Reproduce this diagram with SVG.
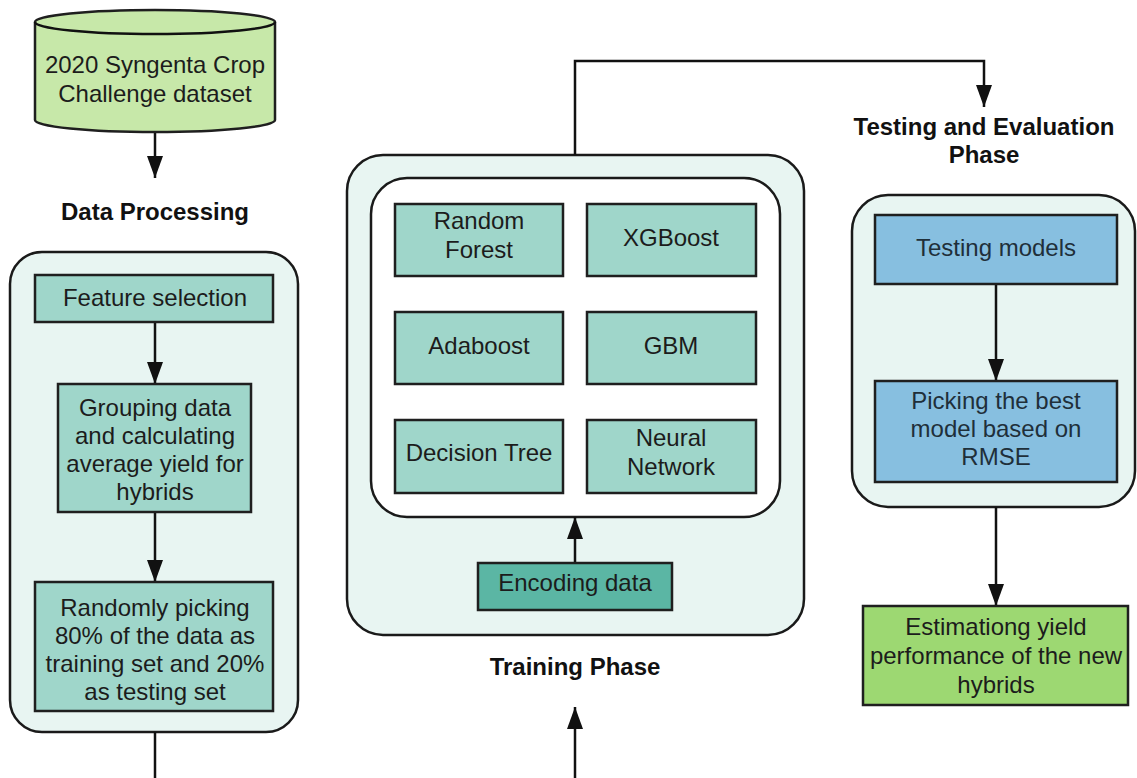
<svg xmlns="http://www.w3.org/2000/svg" width="1137" height="778" viewBox="0 0 1137 778">
  <style>
    text { font-family: "Liberation Sans", Arial, sans-serif; font-size: 24px; fill: #1c1c1c; text-anchor: middle; }
    .hdr { font-weight: bold; fill: #111; }
    .panel { fill: #e8f5f2; stroke: #1a1a1a; stroke-width: 2.5; }
    .inner { fill: #ffffff; stroke: #1a1a1a; stroke-width: 2.5; }
    .teal { fill: #9fd6ca; stroke: #1f1f1f; stroke-width: 2.5; }
    .dark { fill: #5bb6a4; stroke: #1f1f1f; stroke-width: 2.5; }
    .blue { fill: #87bfe0; stroke: #1f1f1f; stroke-width: 2.5; }
    .green { fill: #9dd872; stroke: #1f1f1f; stroke-width: 2.5; }
    .cyl { fill: #c7e8a9; stroke: #1f1f1f; stroke-width: 2.5; }
    .blue-text { fill: #1f2f3a; }
    .edge { fill: none; stroke: #111; stroke-width: 2.5; }
  </style>
  <defs>
    <marker id="arrow" viewBox="0 0 22 16" refX="22" refY="8" markerWidth="22" markerHeight="16" markerUnits="userSpaceOnUse" orient="auto">
      <path d="M0,0 L22,8 L0,16 Z" fill="#111"/>
    </marker>
  </defs>

  <!-- Phase containers -->
  <g id="data-processing-panel">
    <rect class="panel" x="10" y="252" width="288" height="480" rx="32"/>
  </g>
  <g id="training-panel">
    <rect class="panel" x="347" y="155" width="457" height="480" rx="36"/>
    <rect class="inner" x="371" y="178" width="409" height="339" rx="36"/>
  </g>
  <g id="testing-panel">
    <rect class="panel" x="852" y="195" width="283" height="312" rx="36"/>
  </g>

  <!-- Connectors -->
  <g id="connectors">
    <line class="edge" x1="155" y1="132" x2="155" y2="178" marker-end="url(#arrow)"/>
    <line class="edge" x1="155" y1="322" x2="155" y2="384" marker-end="url(#arrow)"/>
    <line class="edge" x1="155" y1="512" x2="155" y2="582" marker-end="url(#arrow)"/>
    <line class="edge" x1="155" y1="732" x2="155" y2="778"/>
    <line class="edge" x1="575" y1="778" x2="575" y2="707" marker-end="url(#arrow)"/>
    <line class="edge" x1="575" y1="563" x2="575" y2="517" marker-end="url(#arrow)"/>
    <polyline class="edge" points="575,155 575,61 984,61 984,107" marker-end="url(#arrow)"/>
    <line class="edge" x1="996" y1="284" x2="996" y2="381" marker-end="url(#arrow)"/>
    <line class="edge" x1="996" y1="507" x2="996" y2="606" marker-end="url(#arrow)"/>
  </g>

  <!-- Source dataset -->
  <g id="dataset">
    <path class="cyl" d="M35,22 L35,120 A120,12 0 0 0 275,120 L275,22 A120,12 0 0 0 35,22 Z"/>
    <path class="edge" d="M35,22 A120,12 0 0 0 275,22"/>
    <text x="155" y="73">2020 Syngenta Crop</text>
    <text x="155" y="102">Challenge dataset</text>
  </g>

  <!-- Phase titles -->
  <g id="title-data-processing"><text class="hdr" x="155" y="220">Data Processing</text></g>
  <g id="title-training"><text class="hdr" x="575" y="675">Training Phase</text></g>
  <g id="title-testing">
    <text class="hdr" x="984" y="135">Testing and Evaluation</text>
    <text class="hdr" x="984" y="163">Phase</text>
  </g>

  <!-- Data processing steps -->
  <g id="feature-selection">
    <rect class="teal" x="35" y="275" width="238" height="47"/>
    <text x="155" y="306">Feature selection</text>
  </g>
  <g id="grouping">
    <rect class="teal" x="58" y="384" width="193" height="128"/>
    <text x="155" y="416">Grouping data</text>
    <text x="155" y="444">and calculating</text>
    <text x="155" y="472">average yield for</text>
    <text x="155" y="500">hybrids</text>
  </g>
  <g id="split">
    <rect class="teal" x="35" y="582" width="238" height="129"/>
    <text x="155" y="616">Randomly picking</text>
    <text x="155" y="644">80% of the data as</text>
    <text x="155" y="672">training set and 20%</text>
    <text x="155" y="700">as testing set</text>
  </g>

  <!-- Models -->
  <g id="random-forest">
    <rect class="teal" x="395" y="204" width="168" height="72"/>
    <text x="479" y="229">Random</text>
    <text x="479" y="258">Forest</text>
  </g>
  <g id="xgboost">
    <rect class="teal" x="587" y="204" width="169" height="72"/>
    <text x="671" y="246">XGBoost</text>
  </g>
  <g id="adaboost">
    <rect class="teal" x="395" y="312" width="168" height="72"/>
    <text x="479" y="354">Adaboost</text>
  </g>
  <g id="gbm">
    <rect class="teal" x="587" y="312" width="169" height="72"/>
    <text x="671" y="354">GBM</text>
  </g>
  <g id="decision-tree">
    <rect class="teal" x="395" y="420" width="168" height="73"/>
    <text x="479" y="461">Decision Tree</text>
  </g>
  <g id="neural-network">
    <rect class="teal" x="587" y="420" width="169" height="73"/>
    <text x="671" y="446">Neural</text>
    <text x="671" y="475">Network</text>
  </g>
  <g id="encoding">
    <rect class="dark" x="478" y="563" width="194" height="47"/>
    <text x="575" y="591">Encoding data</text>
  </g>

  <!-- Testing and evaluation -->
  <g id="testing-models">
    <rect class="blue" x="875" y="215" width="242" height="69"/>
    <text class="blue-text" x="996" y="256">Testing models</text>
  </g>
  <g id="best-model">
    <rect class="blue" x="875" y="381" width="242" height="101"/>
    <text class="blue-text" x="996" y="409">Picking the best</text>
    <text class="blue-text" x="996" y="437">model based on</text>
    <text class="blue-text" x="996" y="465">RMSE</text>
  </g>
  <g id="estimate">
    <rect class="green" x="863" y="606" width="265" height="99"/>
    <text x="996" y="635">Estimationg yield</text>
    <text x="996" y="664">performance of the new</text>
    <text x="996" y="693">hybrids</text>
  </g>
</svg>
